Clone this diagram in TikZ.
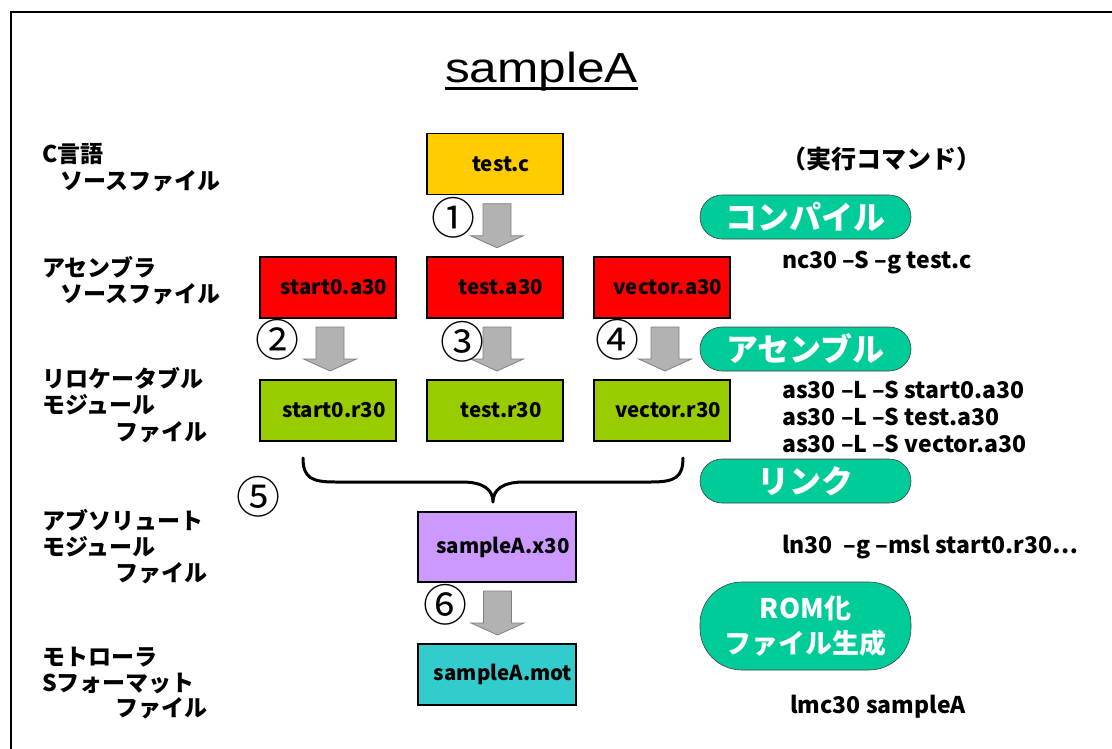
\documentclass[tikz,border=0pt]{standalone}
\usepackage{fontspec}
\setmainfont{Noto Sans CJK JP}
\newfontfamily\titlefont{Liberation Sans}
\usetikzlibrary{calc}
\definecolor{gold}{HTML}{FFCC00}
\definecolor{redbox}{HTML}{FF0000}
\definecolor{greenbox}{HTML}{99CC00}
\definecolor{violetbox}{HTML}{CC99FF}
\definecolor{cyanbox}{HTML}{33CCCC}
\definecolor{tealg}{HTML}{00CC99}
\definecolor{arrgray}{HTML}{B2B2B2}
\definecolor{arredge}{HTML}{808080}
\newcommand\blockarr[1]{%
  \filldraw[barrow] ([shift={(-14,-22)}]#1) -- ++(28,0) -- ++(0,32) -- ++(12.5,0)
    -- ++(-26.5,12) -- ++(-26.5,-12) -- ++(12.5,0) -- cycle;}
\begin{document}
\begin{tikzpicture}[x=1pt,y=-1pt,
  filebox/.style={draw, line width=1.6pt, minimum width=136pt, minimum height=61pt, inner sep=0pt,
    font=\bfseries\fontsize{20.5}{20.5}\selectfont},
  lbl/.style={anchor=west, inner sep=0pt, font=\bfseries\fontsize{23}{23}\selectfont},
  cmd/.style={anchor=west, inner sep=0pt, font=\bfseries\fontsize{23}{23}\selectfont},
  stadium/.style={fill=tealg, draw=black!75, line width=0.6pt, minimum width=211pt, minimum height=44pt,
    rounded corners=22pt, text=white, inner sep=0pt, font=\bfseries\fontsize{32}{32}\selectfont},
  num/.style={inner sep=0pt, font=\fontsize{44}{44}\selectfont},
  barrow/.style={fill=arrgray, draw=arredge, line width=0.8pt},
]
\useasboundingbox (0,0) rectangle (1112,749);
% frame
\draw[line width=2pt] (11,749) -- (11,12) -- (1113,12);
% title
\node[inner sep=0pt, xscale=1.18, transform shape, anchor=base] (title) at (541.5,83)
  {\titlefont\fontsize{42}{42}\selectfont sampleA};
\draw[line width=3pt] ([yshift=-6pt]title.base west) -- ([yshift=-6pt]title.base east);

% left labels
\node[lbl] (l1a) at (42,154) {C言語};
\node[lbl] (l1b) at (60,181) {ソースファイル};
\node[lbl] (l2a) at (42,267) {アセンブラ};
\node[lbl] (l2b) at (60,294) {ソースファイル};
\node[lbl] (l3a) at (42,378) {リロケータブル};
\node[lbl] (l3b) at (42,405) {モジュール};
\node[lbl] (l3c) at (115,432) {ファイル};
\node[lbl] (l4a) at (42,520) {アブソリュート};
\node[lbl] (l4b) at (42,547) {モジュール};
\node[lbl] (l4c) at (115,573) {ファイル};
\node[lbl] (l5a) at (42,657) {モトローラ};
\node[lbl] (l5b) at (42,683) {Sフォーマット};
\node[lbl] (l5c) at (115,708) {ファイル};

% file boxes
\node[filebox, fill=gold] (testc) at (495,164) {\hspace*{12pt}test.c};
\node[filebox, fill=redbox] (starta) at (328,287.5) {\hspace*{12pt}start0.a30};
\node[filebox, fill=redbox] (testa) at (495,287.5) {\hspace*{12pt}test.a30};
\node[filebox, fill=redbox] (vectora) at (662,287.5) {\hspace*{12pt}vector.a30};
\node[filebox, fill=greenbox] (startr) at (328,410.5) {\hspace*{12pt}start0.r30};
\node[filebox, fill=greenbox] (testr) at (495,410.5) {\hspace*{12pt}test.r30};
\node[filebox, fill=greenbox] (vectorr) at (662,410.5) {\hspace*{12pt}vector.r30};
\node[filebox, fill=violetbox, minimum width=158pt, minimum height=70pt] (x30) at (497,547) {\hspace*{12pt}sampleA.x30};
\node[filebox, fill=cyanbox, minimum width=158pt] (mot) at (497,674.5) {\hspace*{12pt}sampleA.mot};

% block arrows
\coordinate (m1) at ($(testc.south)!0.5!(testa.north)+(2,0)$);
\coordinate (m2) at ($(starta.south)!0.5!(startr.north)+(2,0)$);
\coordinate (m3) at ($(testa.south)!0.5!(testr.north)+(2,0)$);
\coordinate (m4) at ($(vectora.south)!0.5!(vectorr.north)+(3,0)$);
\coordinate (m6) at ($(x30.south)!0.5!(mot.north)+(0.5,0)$);
\blockarr{m1}
\blockarr{m2}
\blockarr{m3}
\blockarr{m4}
\blockarr{m6}

% step numbers
\node[num] (n1) at (453,218) {①};
\node[num] (n2) at (277,340) {②};
\node[num] (n3) at (462,342) {③};
\node[num] (n4) at (617,340) {④};
\node[num] (n5) at (258,497) {⑤};
\node[num] (n6) at (445,605) {⑥};

% brace
\draw[line width=3pt, line cap=round, line join=round]
  (303,458) .. controls (303,478) and (312,482) .. (335,482) -- (462,482)
  .. controls (484,482) and (493,490) .. (493,502)
  .. controls (493,490) and (502,482) .. (524,482) -- (651,482)
  .. controls (674,482) and (683,478) .. (683,458);

% commands column
\node[inner sep=0pt, font=\bfseries\fontsize{25}{25}\selectfont] (cmdtitle) at (881,159) {（実行コマンド）};
\node[stadium] (compile) at (805.5,217) {コンパイル};
\node[cmd] (c1) at (782,263) {nc30 –S –g test.c};
\node[stadium] (assemble) at (805.5,349) {アセンブル};
\node[cmd] (c2) at (782,390) {as30 –L –S start0.a30};
\node[cmd] (c3) at (782,417) {as30 –L –S test.a30};
\node[cmd] (c4) at (782,444) {as30 –L –S vector.a30};
\node[stadium] (link) at (805.5,481) {リンク};
\node[cmd] (c5) at (782,547) {ln30 \ –g –msl start0.r30…};
\node[stadium, minimum height=88pt, rounded corners=42pt, align=center,
  font=\bfseries\fontsize{27}{35}\selectfont] (rom) at (805.5,626) {ROM化\\ファイル生成};
\node[cmd] (c6) at (790,707) {lmc30 sampleA};
\end{tikzpicture}
\end{document}
